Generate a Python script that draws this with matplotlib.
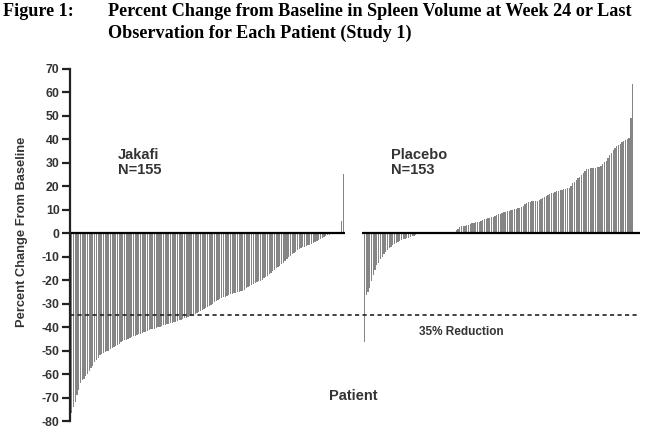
import matplotlib
matplotlib.use("Agg")
import matplotlib.pyplot as plt
import numpy as np

plt.rcParams['axes.unicode_minus'] = False

# percent change from baseline, sorted, one value per patient
jakafi = [-76.4, -74, -72, -69, -67, -64, -62.5, -62, -61, -60,
          -58.5, -57.5, -56.5, -55, -54, -53, -52, -51.5, -51, -50.5,
          -50.3, -50, -49.5, -49, -48.5, -48, -47.5, -47, -46.5, -46,
          -45.6, -45.3, -45, -44.6, -44.2, -43.9, -43.6, -43.4, -43.1, -42.8,
          -42.5, -42.2, -41.9, -41.6, -41.3, -41, -40.8, -40.6, -40.4, -40.1,
          -39.8, -39.5, -39.2, -39, -38.8, -38.6, -38.4, -38.2, -38, -37.7,
          -37.4, -37.1, -36.8, -36.5, -36.2, -35.9, -35.6, -35.3, -35, -34.6,
          -34.2, -33.8, -33.4, -33, -32.6, -32.3, -32, -31.6, -31.2, -30.5,
          -30, -29.5, -29, -28.5, -28, -27.7, -27.3, -27, -26.6, -26.3,
          -26, -25.8, -25.6, -25.4, -25.2, -25, -24.8, -24.5, -24, -23.5,
          -23, -22.5, -22, -21.6, -21.2, -20.8, -20.5, -20.2, -19.8, -19.2,
          -18.6, -18, -17.4, -16.8, -16.2, -15.6, -15, -14.4, -13.8, -13.2,
          -12.6, -12, -11, -10, -9.5, -9, -8.4, -7.8, -7.2, -6.8,
          -6.4, -6, -5.8, -5.5, -5.2, -4.9, -4.5, -4, -3.6, -3.2,
          -2.8, -2.4, -2, -1.6, -1.2, -0.9, -0.6, -0.4, -0.2, -0.1,
          0.0, 0.1, 0.3, 5.4, 25.3]

placebo = [-46.5, -26.3, -25, -23.5, -20.5, -17.8, -15.5, -13.5, -12.5, -11,
           -10, -9, -8, -7, -6.4, -5.8, -5.2, -4.6, -4.1, -3.6,
           -3.2, -2.9, -2.6, -2.3, -2.1, -1.9, -1.6, -1.3, -1, -0.7,
           -0.4, -0.2, 0, 0, 0, 0, 0, 0, 0, 0,
           0, 0, 0, 0, 0, 0, 0, 0, 0, 0,
           0, 0, 1.5, 2, 2.6, 2.9, 3.1, 3.3, 3.5, 3.7,
           4, 4.2, 4.4, 4.6, 4.8, 5, 5.3, 5.6, 5.9, 6.1,
           6.3, 6.5, 6.8, 7.1, 7.4, 7.7, 8, 8.3, 8.6, 8.9,
           9.2, 9.5, 9.7, 9.9, 10.1, 10.3, 10.5, 10.7, 10.9, 11.3,
           11.8, 12.4, 13, 13.3, 13.5, 13.6, 13.7, 13.8, 13.9, 14.1,
           14.6, 15.1, 15.6, 16, 16.4, 16.7, 17, 17.3, 17.6, 17.9,
           18.1, 18.3, 18.5, 18.7, 18.9, 19.1, 19.3, 20.3, 21.3, 22,
           22.7, 23.4, 24.1, 25, 25.8, 26.6, 27.2, 27.5, 27.7, 27.8,
           27.9, 28, 28.1, 28.3, 28.8, 29.5, 30.2, 30.8, 32, 33.2,
           34.3, 35.3, 36.3, 37.2, 37.6, 38.2, 38.7, 39.2, 39.6, 40,
           40.5, 49, 63.5]

yticks = list(range(-80, 71, 10))
threshold = -35

bar_col = '#858585'
txt_col = '#333333'
sans = 'Liberation Sans'
serif = 'Liberation Serif'

fig = plt.figure(figsize=(6.45, 4.44), dpi=100)
ax = fig.add_axes([0.1085, 0.0518, 0.8915, 0.7928])

xj = np.arange(len(jakafi))
xp = np.arange(len(placebo)) + 166

ax.bar(xj, jakafi, width=0.72, color=bar_col, linewidth=0)
ax.bar(xp, placebo, width=0.72, color=bar_col, linewidth=0)

# zero lines for each group
ax.plot([-1, 155.2], [0, 0], color='black', lw=1.6, solid_capstyle='butt')
ax.plot([164.4, 322.2], [0, 0], color='black', lw=1.6, solid_capstyle='butt')

# 35% reduction line
ax.plot([-1, 322], [threshold, threshold], color='#222222', lw=1.2,
        linestyle=(0, (2.5, 2)))

ax.set_xlim(-0.96, 325)
ax.set_ylim(-80, 70)
ax.set_yticks(yticks)
ax.set_xticks([])

for s in ['top', 'right', 'bottom']:
    ax.spines[s].set_visible(False)
ax.spines['left'].set_color('#222222')
ax.spines['left'].set_linewidth(1.6)
ax.tick_params(axis='y', direction='out', length=6, width=1.6,
               color='#222222', pad=1.5)
for lbl in ax.get_yticklabels():
    lbl.set_fontfamily(sans)
    lbl.set_fontweight('bold')
    lbl.set_fontsize(8.8)
    lbl.set_color(txt_col)

ax.set_ylabel('Percent Change From Baseline', fontfamily=sans,
              fontweight='bold', fontsize=9.3, color=txt_col, va='center')
ax.yaxis.set_label_coords(-0.084, 0.537)

ax.text(26, 30, 'Jakafi\nN=155', fontfamily=sans, fontweight='bold',
        fontsize=10.5, color=txt_col, va='center', linespacing=1.1)
ax.text(181, 30, 'Placebo\nN=153', fontfamily=sans, fontweight='bold',
        fontsize=10.5, color=txt_col, va='center', linespacing=1.1)
ax.text(197, -42, '35% Reduction', fontfamily=sans, fontweight='bold',
        fontsize=8.5, color=txt_col, va='center')
ax.text(146, -69.5, 'Patient', fontfamily=sans, fontweight='bold',
        fontsize=10.5, color=txt_col, va='center')

# figure title
fig.text(3 / 645, 1 - 12 / 444, 'Figure 1:', fontfamily=serif,
         fontweight='bold', fontsize=13.1, va='center')
fig.text(108 / 645, 1 - 12 / 444,
         'Percent Change from Baseline in Spleen Volume at Week 24 or Last',
         fontfamily=serif, fontweight='bold', fontsize=13.1, va='center')
fig.text(108 / 645, 1 - 33 / 444, 'Observation for Each Patient (Study 1)',
         fontfamily=serif, fontweight='bold', fontsize=13.1, va='center')

fig.savefig('out.png', dpi=100)
